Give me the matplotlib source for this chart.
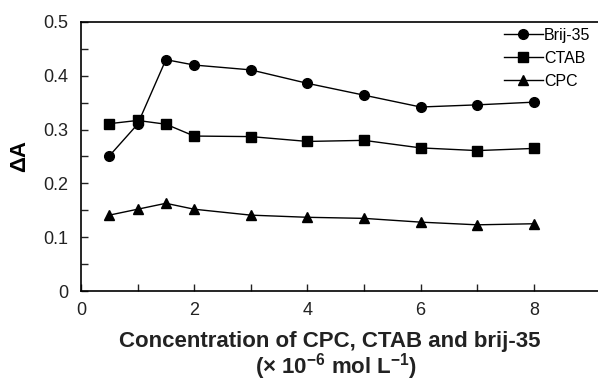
import numpy as np
import matplotlib.pyplot as plt

plt.rcParams['font.family'] = ['Liberation Sans', 'DejaVu Sans']
plt.rcParams['mathtext.fontset'] = 'custom'
plt.rcParams['mathtext.rm'] = 'Liberation Sans'
plt.rcParams['mathtext.bf'] = 'Liberation Sans:bold'

# surfactant concentration (x 10^-6 mol/L)
conc = [0.5, 1, 1.5, 2, 3, 4, 5, 6, 7, 8]

# absorbance change for each surfactant
brij35 = [0.251, 0.310, 0.430, 0.420, 0.411, 0.386, 0.364, 0.342, 0.346, 0.351]
ctab = [0.311, 0.317, 0.310, 0.288, 0.287, 0.278, 0.280, 0.266, 0.261, 0.265]
cpc = [0.141, 0.152, 0.163, 0.152, 0.141, 0.137, 0.135, 0.128, 0.123, 0.125]

W, H = 598, 381
fig = plt.figure(figsize=(W / 100, H / 100), dpi=100)
ax = fig.add_axes([81 / W, 90 / H, 566 / W, 269 / H])

line_kw = dict(color='black', lw=1.0)
ax.plot(conc, brij35, marker='o', ms=7, label='Brij-35', **line_kw)
ax.plot(conc, ctab, marker='s', ms=7, label='CTAB', **line_kw)
ax.plot(conc, cpc, marker='^', ms=7, label='CPC', **line_kw)

ax.set_xlim(0, 10)
ax.set_ylim(0, 0.5)
ax.set_xticks([0, 2, 4, 6, 8])
ax.set_xticks([1, 3, 5, 7], minor=True)
ax.set_yticks(np.arange(0, 0.51, 0.1))
ax.set_yticks(np.arange(0.05, 0.5, 0.1), minor=True)
ax.set_yticklabels(['0', '0.1', '0.2', '0.3', '0.4', '0.5'])
ax.tick_params(which='both', direction='in', length=5, width=1, labelsize=13, colors='#222222')
ax.tick_params(axis='y', pad=9)
ax.tick_params(axis='x', pad=8)
for s in ax.spines.values():
    s.set_linewidth(1.2)

ax.legend(loc='upper left', bbox_to_anchor=(412 / 566, 1.02), frameon=False,
          fontsize=11.5, handlelength=2.4, handletextpad=0.1, labelspacing=0.5,
          borderaxespad=0.3)

ax.set_ylabel('ΔA', fontsize=16, fontweight='bold')
ax.yaxis.set_label_coords(-51 / 566, 0.5)

fig.text(330 / W, 1 - 347 / H, 'Concentration of CPC, CTAB and brij-35',
         ha='center', va='baseline', fontsize=16, fontweight='bold', color='#222222')
fig.text(336 / W, 1 - 374 / H, r'(× 10$^{\mathbf{-6}}$ mol L$^{\mathbf{-1}}$)',
         ha='center', va='baseline', fontsize=16, fontweight='bold', color='#222222')

fig.savefig('out.png', dpi=100)
